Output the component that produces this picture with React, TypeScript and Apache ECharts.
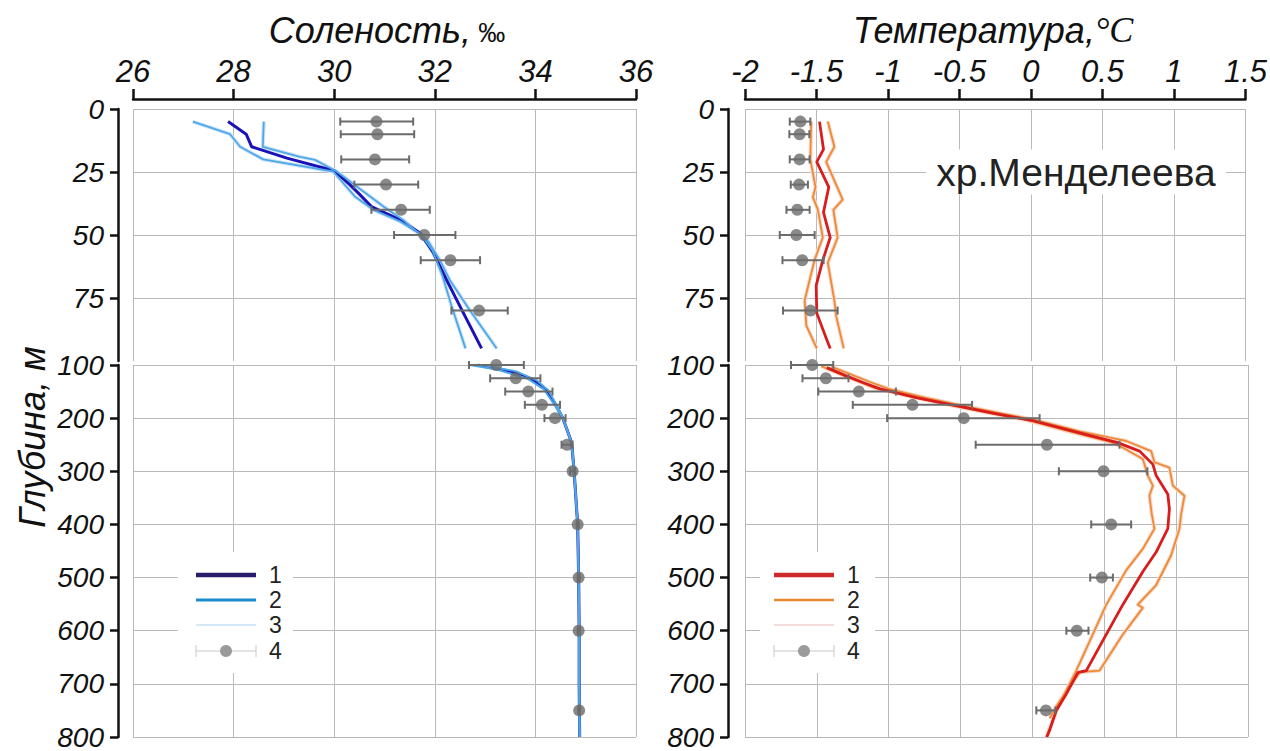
import React, { useEffect, useRef } from "react";
import * as echarts from "echarts";

// ---------- Salinity (‰) : [salinity, depth] ----------
const salMeanUpper = [[27.89,5],[28.25,10],[28.36,15],[29.06,19.5],[30.0,24.5],[30.31,30],[30.51,34],[30.74,38.7],[31.31,44],[31.71,49.3],[31.97,57],[32.23,67.7],[32.57,81],[32.93,95]];
const salFreshUpper = [[27.19,5],[27.93,10],[28.13,15],[28.59,20],[29.98,24.8],[30.01,25.5],[30.41,34.7],[30.78,40],[31.31,44.6],[31.71,49.5],[31.95,56],[32.15,66],[32.33,78],[32.61,95]];
const salSaltyUpper = [[28.6,5],[28.58,15],[29.32,19],[29.62,20.2],[30.05,24.8],[30.58,32.7],[31.0,39],[31.37,44],[31.87,52.6],[32.1,60],[32.3,68],[32.7,80],[33.23,95]];
const salMeanLower = [[32.85,100],[33.5,112],[33.96,128],[34.22,147],[34.42,178],[34.55,201],[34.72,246],[34.77,300],[34.84,400],[34.86,500],[34.87,600],[34.87,700],[34.88,800]];
const salFreshLower = [[32.7,100],[33.25,109],[33.85,126],[34.17,146],[34.4,178],[34.55,201],[34.72,246],[34.77,300],[34.84,400],[34.86,500],[34.87,600],[34.87,700],[34.88,800]];
const salSaltyLower = [[32.95,100],[33.62,112],[34.03,129],[34.26,148],[34.45,180],[34.56,203],[34.72,246],[34.77,300],[34.84,400],[34.86,500],[34.87,600],[34.87,700],[34.88,800]];
// observations: [mean, depth, low, high]
const salObs = [[30.84,5,30.12,31.57],[30.86,10,30.13,31.59],[30.81,20,30.14,31.49],[31.03,30,30.40,31.67],[31.33,40,30.74,31.90],[31.79,50,31.19,32.41],[32.31,60,31.72,32.90],[32.88,80,32.33,33.45],[33.22,100,32.68,33.77],[33.61,125,33.10,34.10],[33.86,150,33.40,34.34],[34.13,175,33.79,34.49],[34.39,200,34.18,34.60],[34.63,250,34.52,34.74],[34.74,300,34.69,34.79],[34.84,400,34.82,34.86],[34.86,500,34.84,34.88],[34.86,600,34.84,34.88],[34.87,750,34.85,34.89]];

// ---------- Temperature (°C) : [temperature, depth] ----------
const tMeanUpper = [[-1.479,5],[-1.451,16],[-1.498,21],[-1.414,31],[-1.451,41],[-1.404,51],[-1.456,60],[-1.502,70],[-1.498,81],[-1.432,91],[-1.404,95]];
const tColdUpper = [[-1.537,5],[-1.543,20],[-1.507,31],[-1.525,35],[-1.49,40],[-1.456,51],[-1.514,60],[-1.583,76],[-1.571,86],[-1.498,95]];
const tWarmUpper = [[-1.421,5],[-1.375,15],[-1.432,21],[-1.317,36],[-1.382,40],[-1.352,51],[-1.421,61],[-1.375,76],[-1.363,82],[-1.31,95]];
const tMeanLower = [[-1.43,105],[-1.30,120],[-1.18,133],[-1.06,145],[-0.80,162],[-0.506,178],[-0.25,192],[-0.008,204],[0.30,226],[0.594,246],[0.745,262],[0.838,287],[0.861,308],[0.942,343],[0.953,371],[0.942,408],[0.861,452],[0.768,489],[0.629,551],[0.514,607],[0.375,675],[0.316,679],[0.236,719],[0.166,750],[0.12,787],[0.10,800]];
const tWarmLower = [[-1.40,103],[-1.26,118],[-1.13,132],[-1.00,145],[-0.74,162],[-0.46,178],[-0.20,192],[0.03,204],[0.33,225],[0.60,240],[0.653,243],[0.826,262],[0.849,283],[0.953,293],[0.977,327],[1.058,346],[1.035,380],[1.023,408],[0.965,458],[0.861,514],[0.733,551],[0.768,557],[0.629,607],[0.467,675],[0.33,678],[0.24,712],[0.16,745],[0.12,765]];
const tColdLower = [[-1.47,102],[-1.33,118],[-1.21,131],[-1.10,143],[-0.84,160],[-0.55,177],[-0.29,191],[-0.05,203],[0.27,226],[0.56,246],[0.606,252],[0.768,277],[0.803,308],[0.838,327],[0.814,346],[0.83,380],[0.849,408],[0.768,446],[0.653,486],[0.514,551],[0.398,620],[0.305,675],[0.177,744],[0.096,800]];
const tObs = [[-1.613,5,-1.687,-1.543],[-1.618,10,-1.69,-1.55],[-1.618,20,-1.687,-1.548],[-1.622,30,-1.68,-1.56],[-1.634,40,-1.71,-1.548],[-1.641,50,-1.757,-1.513],[-1.60,60,-1.738,-1.45],[-1.541,80,-1.734,-1.352],[-1.532,100,-1.68,-1.386],[-1.437,125,-1.60,-1.28],[-1.208,150,-1.49,-0.95],[-0.835,175,-1.25,-0.42],[-0.478,200,-1.011,0.05],[0.101,250,-0.395,0.606],[0.495,300,0.184,0.80],[0.548,400,0.409,0.687],[0.483,500,0.402,0.56],[0.309,600,0.236,0.39],[0.094,750,0.027,0.161]];

// ---------- axis ticks ----------
const salTicks = { min: 26, max: 36, interval: 2 };
const tTicks = { min: -2, max: 1.5, interval: 0.5 };
const depthUpper = { min: 0, max: 100, interval: 25 };
const depthLower = { min: 100, max: 800, interval: 100 };
const legendLabels = ["1", "2", "3", "4"];

const FONT = "'Liberation Sans', Arial, sans-serif";
const GRID = "#b9b9b9";
const AX = "#111";

function xTop(gridIndex: number, t: any) {
  return {
    type: "value", gridIndex, position: "top", offset: 10, ...t,
    axisLine: { show: true, onZero: false, lineStyle: { color: AX, width: 2.5 } },
    axisTick: { show: true, inside: false, length: 10, lineStyle: { color: AX, width: 2.5 } },
    axisLabel: { show: true, margin: 12, color: "#111", fontSize: 31, fontStyle: "italic", fontFamily: FONT },
    splitLine: { show: true, lineStyle: { color: GRID, width: 1 } },
  };
}
function xHidden(gridIndex: number, t: any) {
  return {
    type: "value", gridIndex, ...t,
    axisLine: { show: false }, axisTick: { show: false }, axisLabel: { show: false },
    splitLine: { show: true, lineStyle: { color: GRID, width: 1 } },
  };
}
function yAx(gridIndex: number, d: any, offset: number, upper: boolean) {
  return {
    type: "value", gridIndex, inverse: true, position: "left", offset, ...d,
    axisLine: { show: true, onZero: false, lineStyle: { color: AX, width: 2.5 } },
    axisTick: { show: true, inside: false, length: 8, lineStyle: { color: AX, width: 2.5 } },
    axisLabel: { show: true, margin: 14, color: "#111", fontSize: 28, fontStyle: "italic", fontFamily: FONT, showMaxLabel: !upper },
    splitLine: { show: true, lineStyle: { color: upper ? [GRID, GRID, GRID, GRID, "rgba(0,0,0,0)"] : GRID, width: 1 } },
  };
}

function lineS(data: any, xi: number, color: string, width: number, z = 2) {
  return { type: "line", xAxisIndex: xi, yAxisIndex: xi, data, symbol: "none", silent: true, z, lineStyle: { color, width, join: "round" } };
}
function errS(data: any, xi: number) {
  return {
    type: "custom", xAxisIndex: xi, yAxisIndex: xi, data, z: 5, silent: true,
    encode: { x: 0, y: 1 },
    renderItem: (_p: any, api: any) => {
      const y = api.value(1);
      const a = api.coord([api.value(2), y]);
      const b = api.coord([api.value(3), y]);
      const st = { stroke: "#6b6b6b", lineWidth: 2 };
      return {
        type: "group",
        children: [
          { type: "line", shape: { x1: a[0], y1: a[1], x2: b[0], y2: b[1] }, style: st },
          { type: "line", shape: { x1: a[0], y1: a[1] - 4, x2: a[0], y2: a[1] + 4 }, style: st },
          { type: "line", shape: { x1: b[0], y1: b[1] - 4, x2: b[0], y2: b[1] + 4 }, style: st },
        ],
      };
    },
  };
}
function dotS(data: any, xi: number) {
  return { type: "scatter", xAxisIndex: xi, yAxisIndex: xi, data: data.map((d: any) => [d[0], d[1]]), symbol: "circle", symbolSize: 12, z: 6, silent: true, itemStyle: { color: "#6b6b6b" } };
}

function legend(x0: number, c: string[], w: number[], boxX: number, boxW: number) {
  const ys = [575, 600, 625, 651];
  const els: any[] = [
    { type: "rect", shape: { x: boxX, y: 552, width: boxW, height: 121 }, style: { fill: "#fff" }, z: 100 },
  ];
  for (let i = 0; i < 3; i++) {
    els.push({ type: "line", shape: { x1: x0, y1: ys[i], x2: x0 + 60, y2: ys[i] }, style: { stroke: c[i], lineWidth: w[i] }, z: 101 });
  }
  const es = { stroke: "#c8c8c8", lineWidth: 1 };
  els.push({ type: "line", shape: { x1: x0, y1: ys[3], x2: x0 + 60, y2: ys[3] }, style: es, z: 101 });
  els.push({ type: "line", shape: { x1: x0, y1: ys[3] - 6, x2: x0, y2: ys[3] + 6 }, style: es, z: 101 });
  els.push({ type: "line", shape: { x1: x0 + 60, y1: ys[3] - 6, x2: x0 + 60, y2: ys[3] + 6 }, style: es, z: 101 });
  els.push({ type: "circle", shape: { cx: x0 + 30, cy: ys[3], r: 6 }, style: { fill: "#9a9a9a" }, z: 102 });
  legendLabels.forEach((t, i) => {
    els.push({ type: "text", x: x0 + 73, y: ys[i], style: { text: t, fontSize: 23, lineHeight: 23, fontFamily: FONT, fill: "#222", textVerticalAlign: "middle", textAlign: "left" }, z: 102 });
  });
  return els;
}

export default function App() {
  const ref = useRef<HTMLDivElement>(null);
  useEffect(() => {
    if (!ref.current) return;
    const chart = echarts.init(ref.current, undefined, { renderer: "svg" });
    const option: any = {
      animation: false,
      backgroundColor: "#fff",
      grid: [
        { left: 133, top: 109, width: 503, height: 252 },
        { left: 133, top: 365, width: 503, height: 375 },
        { left: 745, top: 109, width: 503, height: 252 },
        { left: 745, top: 365, width: 503, height: 375 },
      ],
      xAxis: [xTop(0, salTicks), xHidden(1, salTicks), xTop(2, tTicks), xHidden(3, tTicks)],
      yAxis: [yAx(0, depthUpper, 15, true), yAx(1, depthLower, 15, false), yAx(2, depthUpper, 17, true), yAx(3, depthLower, 17, false)],
      series: [
        // salinity
        lineS(salMeanUpper, 0, "#1a12b8", 3),
        lineS(salFreshUpper, 0, "#cfe4f6", 4, 1),
        lineS(salSaltyUpper, 0, "#cfe4f6", 4, 1),
        lineS(salFreshUpper, 0, "#4ea8e8", 1.8, 3),
        lineS(salSaltyUpper, 0, "#4ea8e8", 1.8, 3),
        lineS(salMeanLower, 1, "#1a12b8", 3),
        lineS(salFreshLower, 1, "#4ea8e8", 2, 3),
        lineS(salSaltyLower, 1, "#4ea8e8", 2, 3),
        errS(salObs.filter((d) => d[1] < 100), 0),
        dotS(salObs.filter((d) => d[1] < 100), 0),
        errS(salObs.filter((d) => d[1] >= 100), 1),
        dotS(salObs.filter((d) => d[1] >= 100), 1),
        // temperature
        lineS(tColdUpper, 2, "#f6d9cc", 4, 1),
        lineS(tWarmUpper, 2, "#f6d9cc", 4, 1),
        lineS(tColdUpper, 2, "#ee8a34", 1.8, 3),
        lineS(tWarmUpper, 2, "#ee8a34", 1.8, 3),
        lineS(tMeanUpper, 2, "#d91c1c", 2.8, 4),
        lineS(tColdLower, 3, "#f6d9cc", 4, 1),
        lineS(tWarmLower, 3, "#f6d9cc", 4, 1),
        lineS(tColdLower, 3, "#ee8a34", 1.8, 3),
        lineS(tWarmLower, 3, "#ee8a34", 1.8, 3),
        lineS(tMeanLower, 3, "#d91c1c", 2.8, 4),
        errS(tObs.filter((d) => d[1] < 100), 2),
        dotS(tObs.filter((d) => d[1] < 100), 2),
        errS(tObs.filter((d) => d[1] >= 100), 3),
        dotS(tObs.filter((d) => d[1] >= 100), 3),
      ],
      graphic: [
        {
          type: "text", x: 387, y: 30, z: 100,
          style: {
            text: "{a|Соленость,} {b|‰}", textAlign: "center", textVerticalAlign: "middle",
            rich: {
              a: { fontSize: 36, fontStyle: "italic", fontFamily: FONT, fill: "#111" },
              b: { fontSize: 27, fontFamily: FONT, fill: "#111", padding: [6, 0, 0, 4] },
            },
          },
        },
        {
          type: "text", x: 993, y: 30, z: 100,
          style: {
            text: "{a|Температура,}{b|°C}", textAlign: "center", textVerticalAlign: "middle",
            rich: {
              a: { fontSize: 36, fontStyle: "italic", fontFamily: FONT, fill: "#111" },
              b: { fontSize: 36, fontStyle: "italic", fontFamily: "'Liberation Serif', 'Times New Roman', serif", fill: "#111" },
            },
          },
        },
        {
          type: "text", x: 32, y: 437, rotation: Math.PI / 2, z: 100,
          style: { text: "Глубина, м", fontSize: 36, fontStyle: "italic", fontFamily: FONT, fill: "#111", textAlign: "center", textVerticalAlign: "middle" },
        },
        {
          type: "text", x: 1076, y: 172, z: 100,
          style: { text: "хр.Менделеева", fontSize: 39, fontFamily: FONT, fill: "#222", textAlign: "center", textVerticalAlign: "middle", backgroundColor: "#fff", padding: [3, 10] },
        },
        ...legend(196, ["#2b1b6b", "#1b8acb", "#c5dff2"], [4.5, 3, 1.5], 178, 115),
        ...legend(774, ["#cf2a2a", "#e8892f", "#efd3d3"], [4.5, 2.5, 1.5], 760, 115),
      ],
    };
    chart.setOption(option);
    return () => chart.dispose();
  }, []);
  return <div ref={ref} style={{ position: "absolute", left: 0, top: 0, width: 1270, height: 751 }} />;
}
